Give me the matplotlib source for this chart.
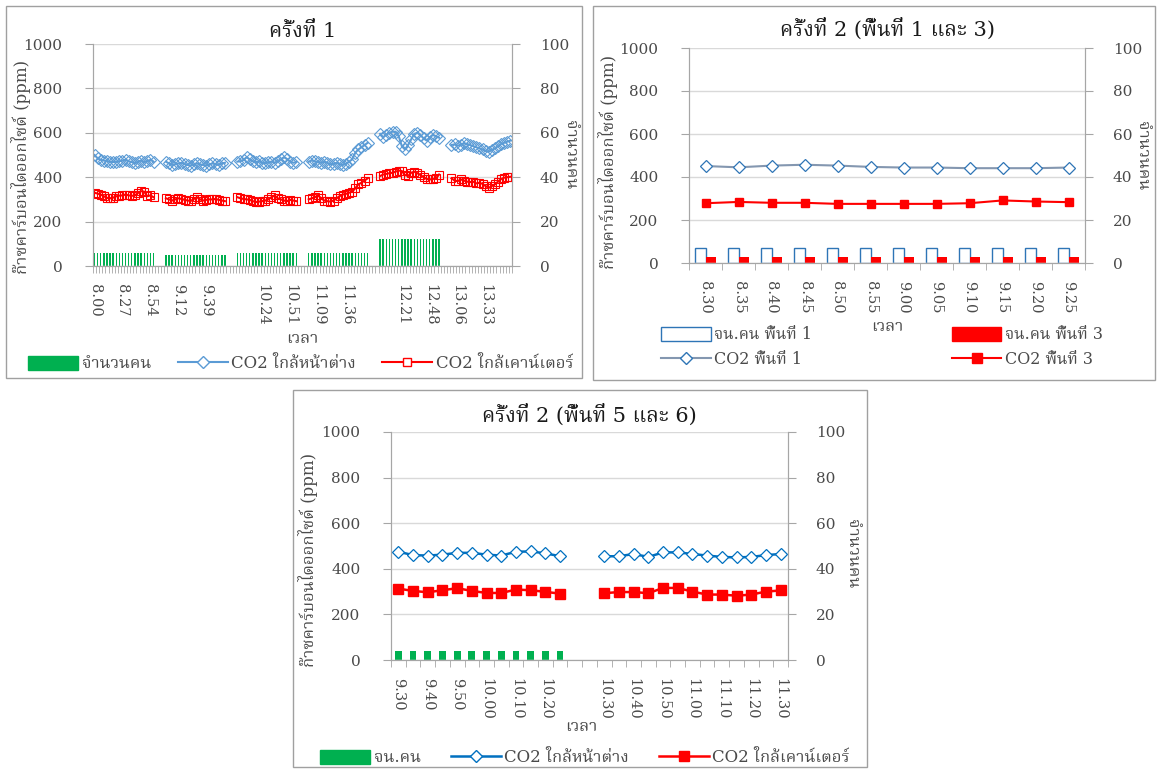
import numpy as np
import matplotlib
matplotlib.use("Agg")
import matplotlib.pyplot as plt
from matplotlib import font_manager
from matplotlib.patches import Rectangle, Patch
from matplotlib.lines import Line2D

W, H = 1158, 769

# ---------------- ครั้งที่ 1 : six sessions of 20 readings ----------------
people_1 = [6, 5, 6, 6, 12, 0]
co2_window_1 = [
    [500, 485, 478, 475, 472, 470, 468, 470, 472, 475, 478, 472, 468, 462, 470, 475, 468, 472, 478, 470],
    [470, 462, 455, 458, 462, 465, 460, 455, 452, 458, 462, 458, 455, 452, 458, 462, 458, 455, 462, 465],
    [470, 472, 478, 490, 480, 472, 468, 472, 465, 462, 468, 470, 465, 472, 480, 490, 482, 470, 465, 468],
    [470, 475, 472, 468, 465, 470, 465, 458, 460, 465, 458, 455, 460, 470, 480, 510, 525, 535, 545, 555],
    [595, 580, 592, 600, 605, 605, 585, 540, 525, 545, 570, 595, 600, 590, 575, 565, 580, 590, 585, 578],
    [545, 548, 542, 545, 552, 550, 545, 540, 535, 530, 525, 518, 515, 522, 530, 540, 550, 555, 560, 565],
]
co2_counter_1 = [
    [330, 326, 322, 314, 307, 305, 308, 314, 317, 318, 322, 318, 316, 318, 329, 337, 335, 314, 318, 310],
    [305, 300, 295, 300, 305, 302, 298, 295, 293, 302, 310, 300, 295, 298, 300, 300, 302, 298, 295, 292],
    [310, 305, 302, 300, 298, 292, 288, 290, 292, 295, 300, 310, 318, 305, 300, 295, 292, 298, 295, 292],
    [300, 305, 310, 318, 305, 295, 292, 290, 295, 305, 315, 322, 325, 330, 335, 350, 368, 375, 385, 395],
    [405, 412, 415, 418, 420, 425, 430, 428, 410, 405, 420, 425, 418, 410, 400, 392, 390, 392, 395, 412],
    [395, 385, 382, 390, 385, 380, 378, 380, 372, 375, 370, 360, 352, 360, 368, 380, 392, 398, 400, 402],
]
ticks_1 = ["8.00", "8.27", "8.54", "9.12", "9.39", "", "10.24", "10.51",
           "11.09", "11.36", "", "12.21", "12.48", "13.06", "13.33"]

# ---------------- ครั้งที่ 2 (พื้นที่ 1 และ 3) ----------------
times_2 = ["8.30", "8.35", "8.40", "8.45", "8.50", "8.55",
           "9.00", "9.05", "9.10", "9.15", "9.20", "9.25"]
co2_area1 = [451, 445, 453, 457, 453, 447, 444, 444, 441, 441, 441, 444]
co2_area3 = [278, 284, 280, 280, 275, 275, 275, 275, 278, 291, 286, 283]
people_area1 = [7, 7, 7, 7, 7, 7, 7, 7, 7, 7, 7, 7]
people_area3 = [3, 3, 3, 3, 3, 3, 3, 3, 3, 3, 3, 3]

# ---------------- ครั้งที่ 2 (พื้นที่ 5 และ 6) ----------------
times_3 = ["9.30", "9.35", "9.40", "9.45", "9.50", "9.55", "10.00", "10.05",
           "10.10", "10.15", "10.20", "10.25", "", "",
           "10.30", "10.35", "10.40", "10.45", "10.50", "10.55", "11.00",
           "11.05", "11.10", "11.15", "11.20", "11.25", "11.30"]
co2_window_3 = [475, 460, 458, 462, 470, 470, 462, 458, 475, 476, 468, 455,
                np.nan, np.nan,
                455, 455, 465, 452, 472, 472, 465, 458, 452, 450, 452, 460, 465]
co2_counter_3 = [313, 303, 297, 306, 315, 303, 294, 294, 309, 306, 299, 291,
                 np.nan, np.nan,
                 293, 298, 298, 293, 316, 316, 300, 287, 287, 282, 287, 300, 305]
people_3 = [4, 4, 4, 4, 4, 4, 4, 4, 4, 4, 4, 4,
            np.nan, np.nan,
            np.nan, np.nan, np.nan, np.nan, np.nan, np.nan, np.nan,
            np.nan, np.nan, np.nan, np.nan, np.nan, np.nan]


def thai_font():
    names = {f.name for f in font_manager.fontManager.ttflist}
    for name in ["Noto Serif Thai", "Noto Sans Thai Looped", "Noto Looped Thai",
                 "Noto Sans Thai", "Noto Sans Thai UI", "TH Sarabun New",
                 "Loma", "Garuda", "Norasi", "Kinnari", "Tlwg Typo"]:
        if name in names:
            return name
    try:
        from fontTools.ttLib import TTFont
        for f in font_manager.fontManager.ttflist:
            try:
                cmap = TTFont(f.fname, fontNumber=0, lazy=True).getBestCmap()
            except Exception:
                continue
            if cmap and 0x0E04 in cmap:
                return f.name
    except ImportError:
        pass
    return "DejaVu Sans"


THAI = thai_font()
plt.rcParams["font.family"] = ["DejaVu Serif", THAI]

GRID = "#D9D9D9"
AXC = "#A6A6A6"
TXT = "#4A4A4A"


def box(l, t, r, b):
    return [l / W, 1 - b / H, (r - l) / W, (b - t) / H]


def frame(fig, l, t, r, b):
    fig.add_artist(Rectangle((l / W, 1 - b / H), (r - l) / W, (b - t) / H,
                             transform=fig.transFigure, fill=False,
                             edgecolor="#A0A0A0", linewidth=1.0))


def setup(fig, rect, n, label_step, labels, title, title_pad):
    ax = fig.add_axes(box(*rect))
    ax2 = ax.twinx()
    ax.set_zorder(ax2.get_zorder() + 1)
    ax.patch.set_visible(False)
    ax.set_xlim(-0.5, n - 0.5)
    ax.set_ylim(0, 1000)
    ax2.set_ylim(0, 100)
    ax.set_yticks(range(0, 1001, 200))
    ax2.set_yticks(range(0, 101, 20))
    ax.yaxis.grid(True, color=GRID, linewidth=1.0)
    ax.set_axisbelow(True)
    for a in (ax, ax2):
        for s in a.spines.values():
            s.set_color(AXC)
        a.spines["top"].set_visible(False)
    ax.tick_params(axis="y", colors=AXC, labelcolor=TXT, labelsize=11, length=6, pad=16)
    ax2.tick_params(axis="y", colors=AXC, labelcolor=TXT, labelsize=11, length=6, pad=14)
    ax.set_xticks(np.arange(0, n, label_step))
    ax.set_xticklabels(labels, rotation=-90, fontsize=10.5, color=TXT)
    ax.tick_params(axis="x", which="major", length=0, pad=13)
    ax.set_xticks(np.arange(-0.5, n, 1.0), minor=True)
    ax.tick_params(axis="x", which="minor", length=5, color=AXC)
    ax.set_ylabel("ก๊าซคาร์บอนไดออกไซด์ (ppm)", fontsize=12, color=TXT)
    ax2.set_ylabel("จำนวนคน", fontsize=12, color=TXT, rotation=-90)
    ax.set_xlabel("เวลา", fontsize=12, color=TXT)
    ax.set_title(title, fontsize=15, color="#1A1A1A", pad=title_pad)
    return ax, ax2


fig = plt.figure(figsize=(W / 100, H / 100), dpi=100)
fig.patch.set_facecolor("white")

# ---------- panel 1 ----------
frame(fig, 6, 6, 582, 378)
gap = 3
win, cnt, ppl = [], [], []
for i in range(len(people_1)):
    if i:
        win += [np.nan] * gap
        cnt += [np.nan] * gap
        ppl += [np.nan] * gap
    win += co2_window_1[i]
    cnt += co2_counter_1[i]
    ppl += [people_1[i]] * len(co2_window_1[i])
n1 = len(win)
x1 = np.arange(n1)
ax, ax2 = setup(fig, (93, 44, 512, 266), n1, 9, ticks_1, "ครั้งที่ 1", 5)
ax2.bar(x1, ppl, width=0.45, color="#00B050")
ax.plot(x1, win, color="#5B9BD5", lw=1.5, marker="D", ms=6, mfc="none",
        mec="#5B9BD5", mew=0.8)
ax.plot(x1, cnt, color="#FF0000", lw=1.5, marker="s", ms=5.5, mfc="none",
        mec="#FF0000", mew=0.8)
ax.yaxis.set_label_coords(-0.148, 0.446)
ax2.yaxis.set_label_coords(1.16, 0.5)
ax.xaxis.set_label_coords(0.5, -0.29)
h1 = [Patch(color="#00B050"),
      Line2D([], [], color="#5B9BD5", lw=1.5, marker="D", ms=6, mfc="white", mec="#5B9BD5"),
      Line2D([], [], color="#FF0000", lw=1.5, marker="s", ms=6, mfc="white", mec="#FF0000")]
fig.legend(h1, ["จำนวนคน", "CO2 ใกล้หน้าต่าง", "CO2 ใกล้เคาน์เตอร์"],
           loc="center", bbox_to_anchor=(301 / W, 1 - 364 / H), ncol=3,
           frameon=False, fontsize=12, handlelength=3.0, handleheight=0.9,
           columnspacing=1.6, handletextpad=0.2, labelcolor=TXT)

# ---------- panel 2 ----------
frame(fig, 593, 6, 1155, 380)
n2 = len(times_2)
x2 = np.arange(n2)
ax, ax2 = setup(fig, (689, 48, 1085, 263), n2, 1, times_2,
                "ครั้งที่ 2 (พื้นที่ 1 และ 3)", 9)
ax2.bar(x2 - 0.155, people_area1, width=0.31, facecolor="white",
        edgecolor="#2E75B6", linewidth=1.0)
ax2.bar(x2 + 0.155, people_area3, width=0.31, color="#FF0000")
ax.plot(x2, co2_area1, color="#8497B0", lw=1.5, marker="D", ms=6,
        mfc="white", mec="#2E75B6", mew=0.9)
ax.plot(x2, co2_area3, color="#FF0000", lw=1.5, marker="s", ms=6,
        mfc="#FF0000", mec="#FF0000")
ax.yaxis.set_label_coords(-0.18, 0.47)
ax2.yaxis.set_label_coords(1.167, 0.5)
ax.xaxis.set_label_coords(0.5, -0.256)
h2 = [Patch(facecolor="white", edgecolor="#2E75B6"),
      Line2D([], [], color="#8497B0", lw=1.5, marker="D", ms=6, mfc="white", mec="#2E75B6"),
      Patch(color="#FF0000"),
      Line2D([], [], color="#FF0000", lw=1.5, marker="s", ms=7, mfc="#FF0000", mec="#FF0000")]
fig.legend(h2, ["จน.คน พื้นที่ 1", "CO2 พื้นที่ 1", "จน.คน พื้นที่ 3", "CO2 พื้นที่ 3"],
           loc="center", bbox_to_anchor=(882 / W, 1 - 347 / H), ncol=2,
           frameon=False, fontsize=11.5, handlelength=3.1, handleheight=0.9,
           columnspacing=8.75, handletextpad=0.2, labelspacing=0.45, labelcolor=TXT)

# ---------- panel 3 ----------
frame(fig, 293, 390, 867, 767)
n3 = len(times_3)
x3 = np.arange(n3)
ax, ax2 = setup(fig, (391, 432, 788, 660), n3, 2, times_3[::2],
                "ครั้งที่ 2 (พื้นที่ 5 และ 6)", 7)
ax2.bar(x3, people_3, width=0.46, color="#00B050")
ax.plot(x3, co2_window_3, color="#0070C0", lw=1.8, marker="D", ms=6.5,
        mfc="white", mec="#0070C0", mew=0.9)
ax.plot(x3, co2_counter_3, color="#FF0000", lw=1.8, marker="s", ms=6.5,
        mfc="#FF0000", mec="#FF0000")
ax.yaxis.set_label_coords(-0.184, 0.44)
ax2.yaxis.set_label_coords(1.184, 0.465)
ax.xaxis.set_label_coords(0.48, -0.254)
h3 = [Patch(color="#00B050"),
      Line2D([], [], color="#0070C0", lw=1.8, marker="D", ms=6, mfc="white", mec="#0070C0"),
      Line2D([], [], color="#FF0000", lw=1.8, marker="s", ms=7, mfc="#FF0000", mec="#FF0000")]
fig.legend(h3, ["จน.คน", "CO2 ใกล้หน้าต่าง", "CO2 ใกล้เคาน์เตอร์"],
           loc="center", bbox_to_anchor=(585 / W, 1 - 758 / H), ncol=3,
           frameon=False, fontsize=12, handlelength=3.0, handleheight=0.9,
           columnspacing=1.8, handletextpad=0.2, labelcolor=TXT)

fig.savefig("out.png", dpi=100, facecolor="white")
